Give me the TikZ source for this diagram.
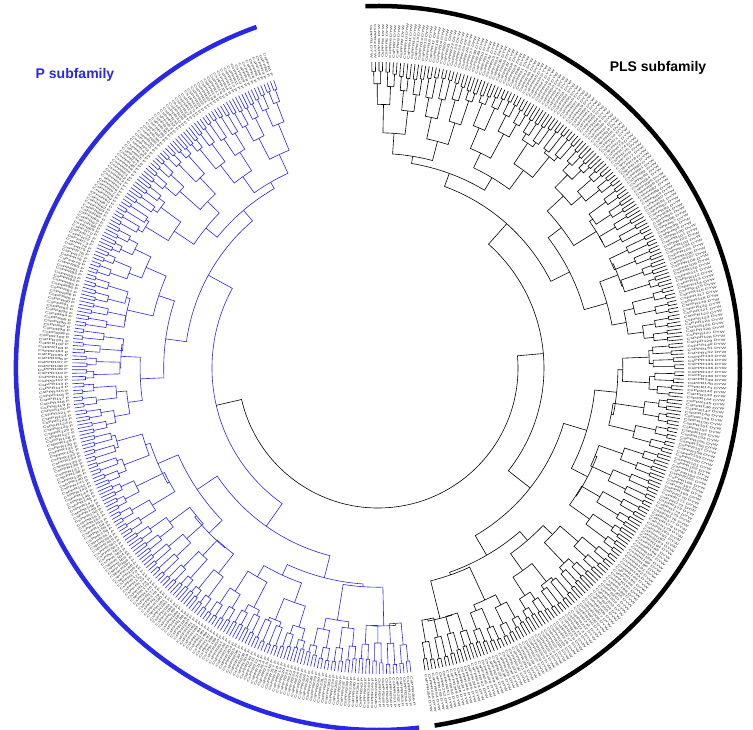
\documentclass[tikz,border=0pt]{standalone}
\usepackage{graphicx}
\usepackage{fontspec}
\setmainfont{Liberation Sans}
\definecolor{myblue}{RGB}{40,40,230}
\tikzset{branch/.style={line width=0.6pt},
  leaflab/.style={inner sep=0pt,font=\fontsize{3}{3}\selectfont},
  title/.style={font=\bfseries\fontsize{14}{16}\selectfont}}
\def\basearr{{306,294,280,264,246,226,206,186,166}}
\def\amparr{{0,3,5,8,12,14,12,8,0}}
\begin{document}
\begin{tikzpicture}[x=1pt,y=1pt]
\useasboundingbox (-378,-361) rectangle (375,368);
\fill[white] (-378,-361) rectangle (375,368);
\foreach \A/\d/\col/\suf in {91.5/-0.67578/black/DYW, 109.6/0.65195/myblue/P}{
  \foreach \k in {0,...,255}{
    \pgfmathsetmacro\a{\A+(\k+0.5)*\d}
    \pgfmathtruncatemacro\num{\k+1}
    \pgfmathtruncatemacro\rt{cos(\a)>=0}
    \ifnum\rt=1
      \node[leaflab,rotate=\a,anchor=west,text=black!85] (lf\k) at (\a:310) {\scalebox{1.7}[1]{CsPPR\num\ \suf}};
    \else
      \node[leaflab,rotate=\a+180,anchor=east,text=black!85] (lf\k) at (\a:310) {\scalebox{1.7}[1]{CsPPR\num\ \suf}};
    \fi
  }
  \foreach \L in {1,...,8}{
    \pgfmathtruncatemacro\M{256/2^\L-1}
    \pgfmathtruncatemacro\Lc{\L-1}
    \pgfmathsetmacro\w{2^(\L-1)}
    \foreach \i in {0,...,\M}{
      \pgfmathsetmacro\aa{\A+(2*\i+0.5)*\w*\d}
      \pgfmathsetmacro\ab{\A+(2*\i+1.5)*\w*\d}
      \pgfmathsetmacro\r{\basearr[\L]+\amparr[\L]*sin(\i*37.7+\L*61)}
      \pgfmathsetmacro\rca{\basearr[\Lc]+\amparr[\Lc]*sin(2*\i*37.7+\Lc*61)}
      \pgfmathsetmacro\rcb{\basearr[\Lc]+\amparr[\Lc]*sin((2*\i+1)*37.7+\Lc*61)}
      \draw[branch,\col] (\aa:\rca) -- (\aa:\r) arc[start angle=\aa,end angle=\ab,radius=\r] -- (\ab:\rcb);
    }
  }
}
\coordinate (rootA) at (5:166);
\coordinate (rootB) at (193:166);
\draw[branch] (rootA) -- (5:140) arc[start angle=5,end angle=-167,radius=140] -- (rootB);
\draw[line width=4.5pt,black] (92:362) arc[start angle=92,end angle=-81,radius=362];
\draw[line width=4.5pt,myblue] (109.6:362) arc[start angle=109.6,end angle=276.5,radius=362];
\node[title,text=myblue] (tp) at (-303,293) {P subfamily};
\node[title,text=black] (tpls) at (280,300) {PLS subfamily};
\end{tikzpicture}
\end{document}
